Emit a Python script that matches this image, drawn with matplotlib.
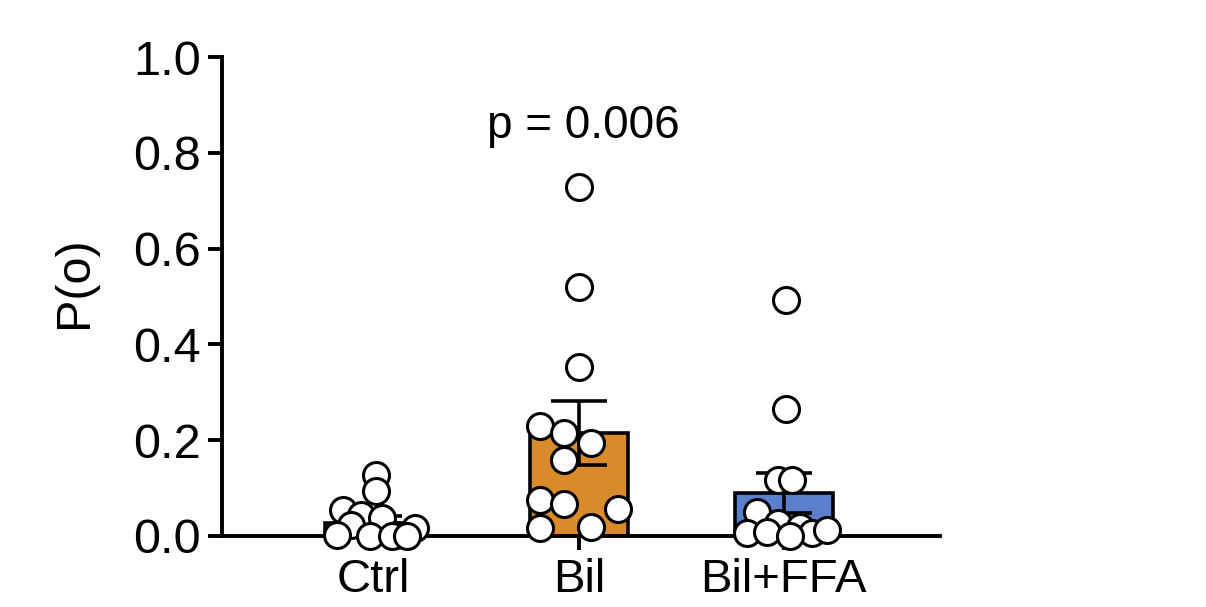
import numpy as np
import matplotlib
matplotlib.use("Agg")
import matplotlib.pyplot as plt

plt.rcParams['font.family'] = ['Liberation Sans', 'DejaVu Sans']

# group labels, bar heights (mean) and SEM
groups = ["Ctrl", "Bil", "Bil+FFA"]
means = [0.027, 0.215, 0.090]
sems = [0.015, 0.066, 0.042]
bar_colors = ["#D98B2B", "#D98B2B", "#5B7FCC"]

# individual recordings: horizontal offset from bar centre and P(o) value
ctrl_dx = [0.01, 0.01, -0.15, -0.06, 0.04, -0.11, -0.18, -0.02, 0.11, 0.20, 0.09, 0.16]
ctrl_po = [0.127, 0.094, 0.054, 0.044, 0.038, 0.023, 0.002, 0.0, 0.002, 0.017, 0.0, 0.0]
bil_dx = [0.0, 0.0, 0.0, -0.19, -0.07, 0.06, -0.07, -0.19, -0.07, 0.19, -0.19, 0.06]
bil_po = [0.729, 0.520, 0.353, 0.230, 0.215, 0.194, 0.159, 0.075, 0.067, 0.056, 0.017, 0.019]
ffa_dx = [0.01, 0.01, -0.03, 0.04, -0.13, -0.03, -0.18, -0.08, 0.08, 0.14, 0.21, 0.03]
ffa_po = [0.493, 0.265, 0.117, 0.117, 0.050, 0.027, 0.006, 0.008, 0.019, 0.006, 0.013, 0.0]

points_dx = [ctrl_dx, bil_dx, ffa_dx]
points_po = [ctrl_po, bil_po, ffa_po]

p_text = "p = 0.006"

fig = plt.figure(figsize=(12.06, 6.07), dpi=100)
ax = fig.add_axes([0.1841, 0.117, 0.595, 0.789])

xpos = np.arange(len(groups))
ax.bar(xpos, means, width=0.48, color=bar_colors, edgecolor="black",
       linewidth=2.6, zorder=2)
ax.errorbar(xpos, means, yerr=sems, fmt="none", ecolor="black",
            elinewidth=2.6, capsize=20, capthick=2.6, zorder=3)

for i in range(len(groups)):
    ax.scatter(xpos[i] + np.array(points_dx[i]), points_po[i], s=350,
               facecolor="white", edgecolor="black", linewidth=2.2,
               zorder=4, clip_on=False)

ax.text(1.02, 0.831, p_text, ha="center", va="baseline", fontsize=33)

ax.set_xlim(-0.74, 2.76)
ax.set_ylim(0, 1.0)
ax.set_yticks([0.0, 0.2, 0.4, 0.6, 0.8, 1.0])
ax.set_yticklabels(["0.0", "0.2", "0.4", "0.6", "0.8", "1.0"])
ax.set_xticks(xpos)
ax.set_xticklabels(groups)
ax.set_ylabel("P(o)", fontsize=35)
ax.yaxis.set_label_coords(-0.174, 0.53)

ax.tick_params(axis="y", labelsize=35, width=2.8, length=10, pad=5)
ax.tick_params(axis="x", labelsize=34, width=2.8, length=10, pad=6)
for side in ["top", "right"]:
    ax.spines[side].set_visible(False)
for side in ["left", "bottom"]:
    ax.spines[side].set_linewidth(2.8)

fig.savefig("out.png", dpi=100)
